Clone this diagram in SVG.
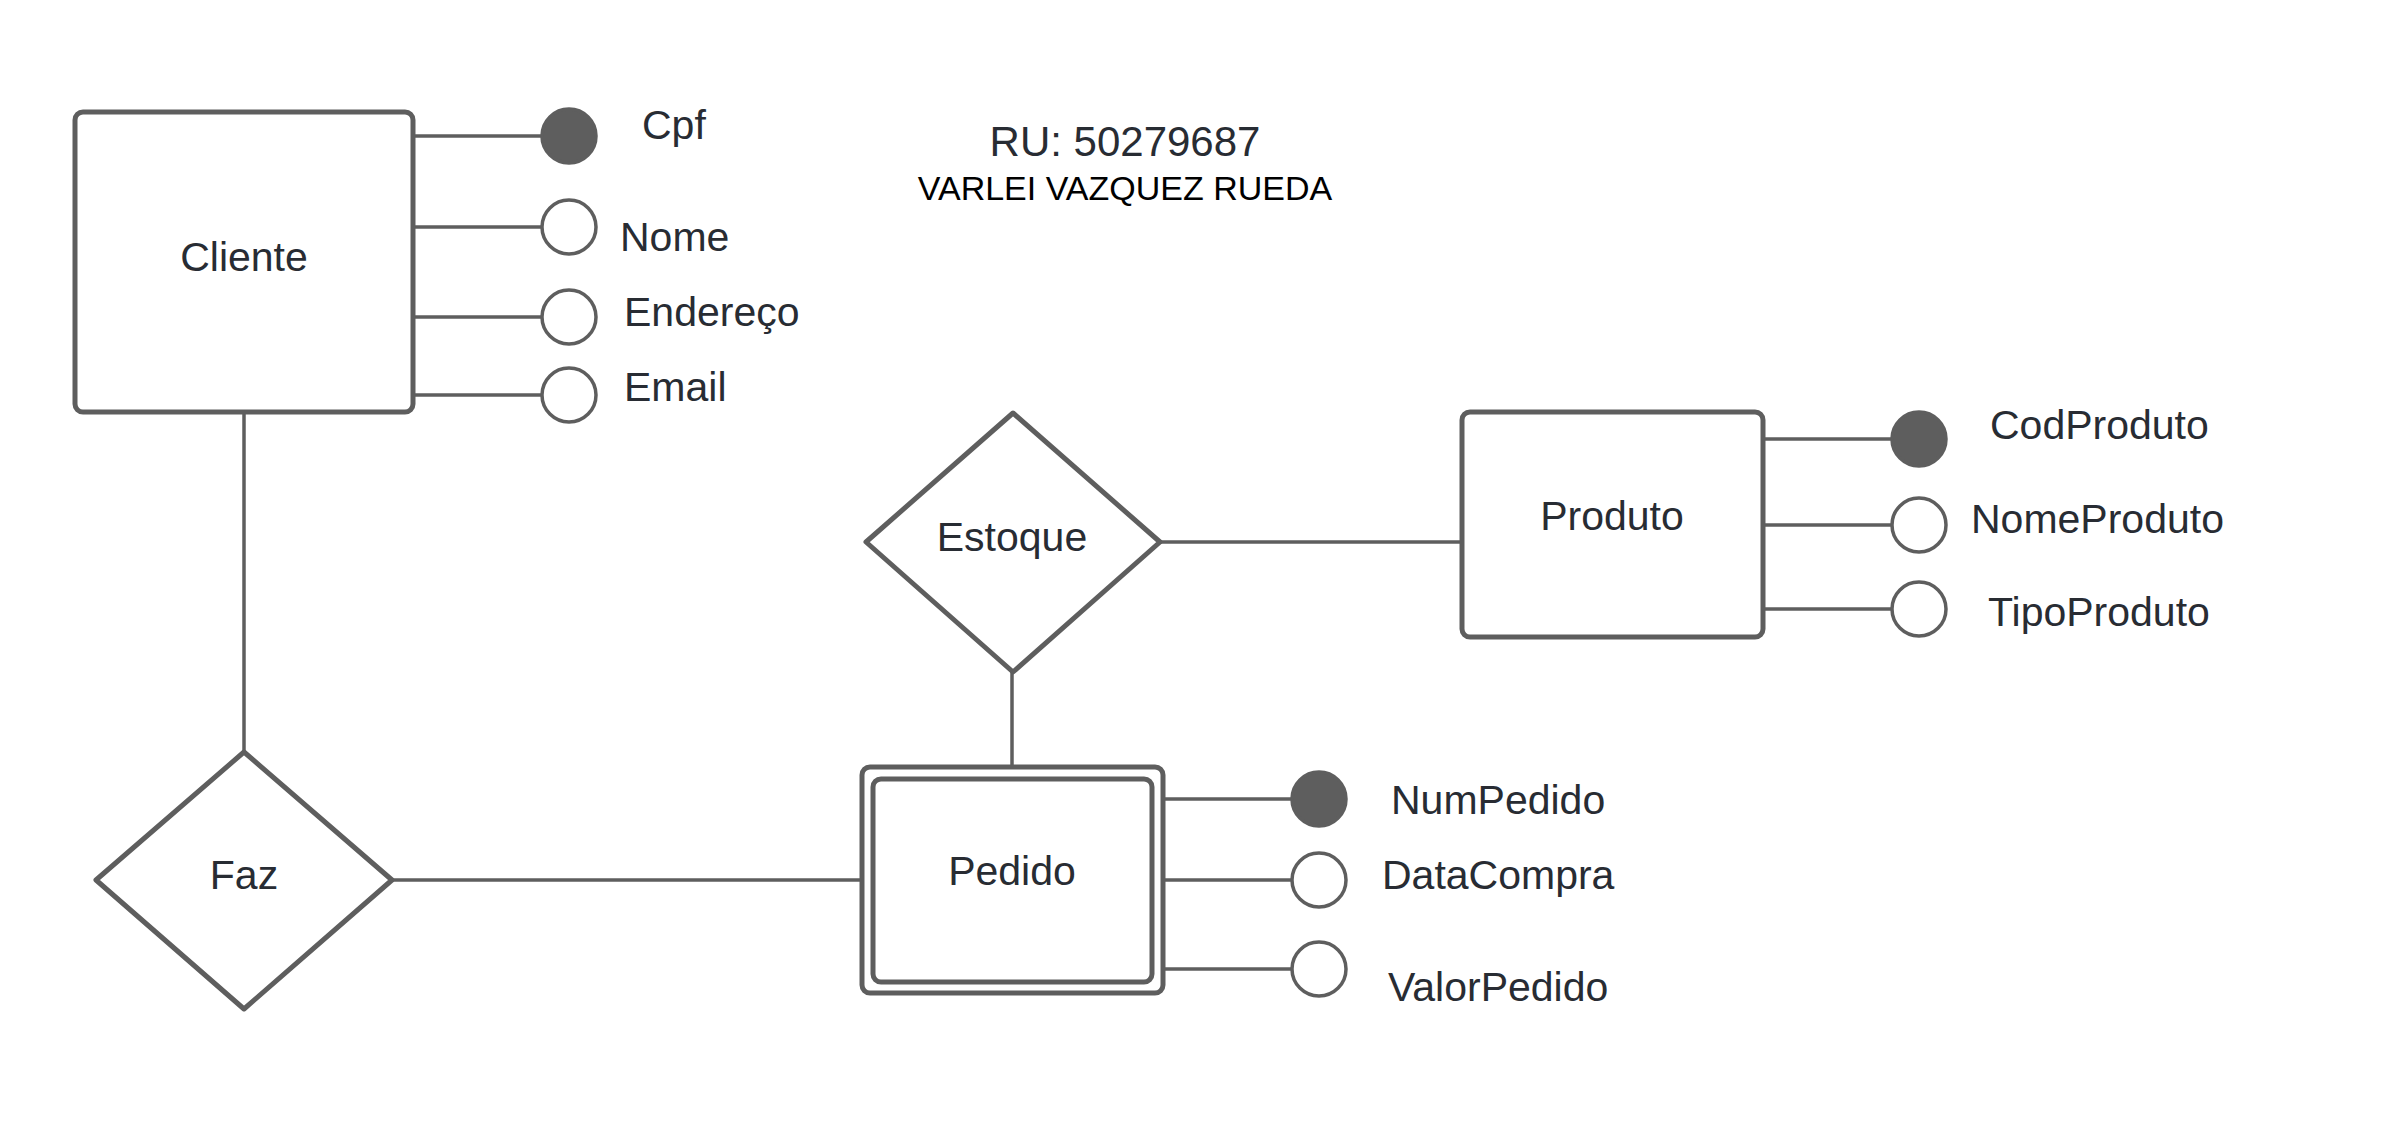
<svg xmlns="http://www.w3.org/2000/svg" width="2400" height="1125" viewBox="0 0 2400 1125">
<style>
.box{fill:#fff;stroke:#5e5e5e;stroke-width:5}
.dia{fill:#fff;stroke:#5e5e5e;stroke-width:5;stroke-linejoin:round}
.ln{stroke:#5e5e5e;stroke-width:3.5;fill:none}
.key{fill:#5e5e5e;stroke:#5e5e5e;stroke-width:3.5}
.att{fill:#fff;stroke:#5e5e5e;stroke-width:3.5}
text{font-family:"Liberation Sans",Arial,sans-serif;font-size:41px;fill:#282c33}
.c{text-anchor:middle}
</style>
<rect width="2400" height="1125" fill="#fff"/>
<g id="connectors">
<line class="ln" x1="413" y1="136" x2="541" y2="136"/>
<line class="ln" x1="413" y1="227" x2="541" y2="227"/>
<line class="ln" x1="413" y1="317" x2="541" y2="317"/>
<line class="ln" x1="413" y1="395" x2="541" y2="395"/>
<line class="ln" x1="244" y1="412" x2="244" y2="752"/>
<line class="ln" x1="392" y1="880" x2="862" y2="880"/>
<line class="ln" x1="1012" y1="671" x2="1012" y2="767"/>
<line class="ln" x1="1160" y1="542" x2="1462" y2="542"/>
<line class="ln" x1="1763" y1="439" x2="1891" y2="439"/>
<line class="ln" x1="1763" y1="525" x2="1891" y2="525"/>
<line class="ln" x1="1763" y1="609" x2="1891" y2="609"/>
<line class="ln" x1="1163" y1="799" x2="1291" y2="799"/>
<line class="ln" x1="1163" y1="880" x2="1291" y2="880"/>
<line class="ln" x1="1163" y1="969" x2="1291" y2="969"/>
</g>
<g id="cliente">
<rect class="box" x="75" y="112" width="338" height="300" rx="8"/>
<text class="c" x="244" y="271">Cliente</text>
</g>
<g id="attr-cpf"><circle class="key" cx="569" cy="136" r="27"/><text x="642" y="139">Cpf</text></g>
<g id="attr-nome"><circle class="att" cx="569" cy="227" r="27"/><text x="620" y="251">Nome</text></g>
<g id="attr-endereco"><circle class="att" cx="569" cy="317" r="27"/><text x="624" y="326">Endereço</text></g>
<g id="attr-email"><circle class="att" cx="569" cy="395" r="27"/><text x="624" y="401">Email</text></g>
<g id="title">
<text class="c" x="1125" y="156" style="font-size:42px">RU: 50279687</text>
<text class="c" x="1125" y="200" style="font-size:34px;fill:#000">VARLEI VAZQUEZ RUEDA</text>
</g>
<g id="faz">
<path class="dia" d="M244 752 L392 880 L244 1009 L96 880 Z"/>
<text class="c" x="244" y="889">Faz</text>
</g>
<g id="estoque">
<path class="dia" d="M1013 413 L1160 542 L1013 672 L866 542 Z"/>
<text class="c" x="1012" y="551">Estoque</text>
</g>
<g id="produto">
<rect class="box" x="1462" y="412" width="301" height="225" rx="8"/>
<text class="c" x="1612" y="530">Produto</text>
</g>
<g id="attr-codproduto"><circle class="key" cx="1919" cy="439" r="27"/><text x="1990" y="439">CodProduto</text></g>
<g id="attr-nomeproduto"><circle class="att" cx="1919" cy="525" r="27"/><text x="1971" y="533">NomeProduto</text></g>
<g id="attr-tipoproduto"><circle class="att" cx="1919" cy="609" r="27"/><text x="1988" y="626">TipoProduto</text></g>
<g id="pedido">
<rect class="box" x="862" y="767" width="301" height="226" rx="8"/>
<rect class="box" x="873" y="779" width="279" height="203" rx="8"/>
<text class="c" x="1012" y="885">Pedido</text>
</g>
<g id="attr-numpedido"><circle class="key" cx="1319" cy="799" r="27"/><text x="1391" y="814">NumPedido</text></g>
<g id="attr-datacompra"><circle class="att" cx="1319" cy="880" r="27"/><text x="1382" y="889">DataCompra</text></g>
<g id="attr-valorpedido"><circle class="att" cx="1319" cy="969" r="27"/><text x="1388" y="1001">ValorPedido</text></g>
</svg>
